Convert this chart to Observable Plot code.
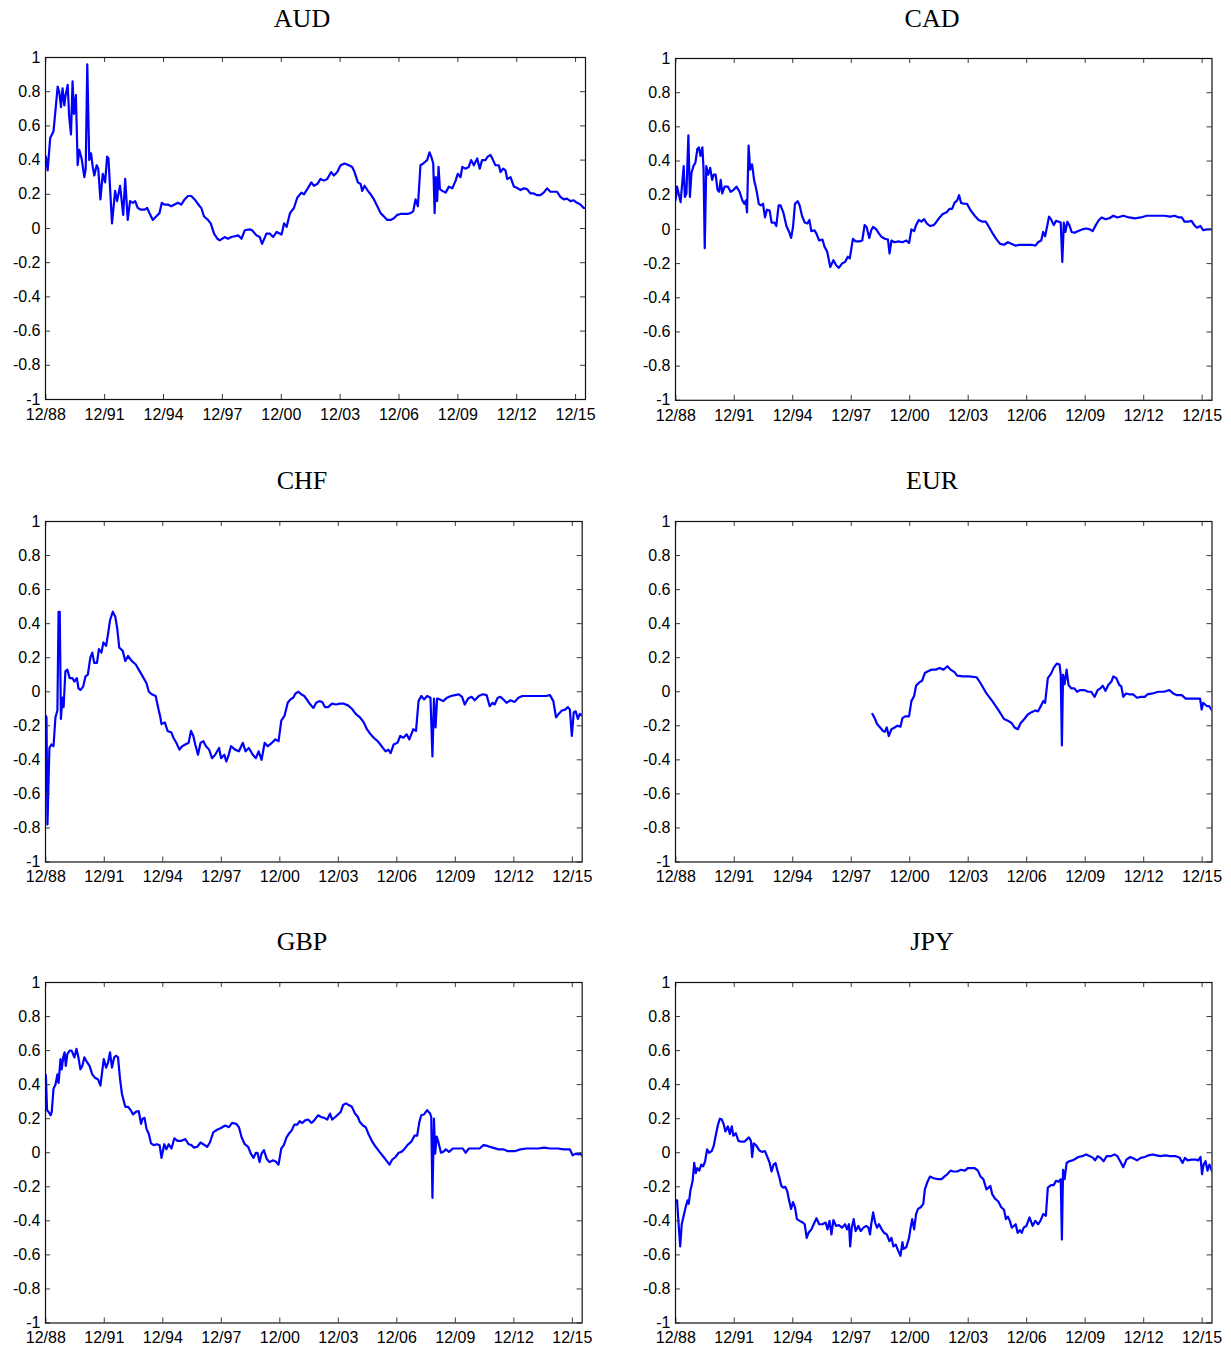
<!DOCTYPE html>
<html>
<head>
<meta charset="utf-8">
<script src="https://cdn.jsdelivr.net/npm/d3@7"></script>
<script src="https://cdn.jsdelivr.net/npm/@observablehq/plot@0.6"></script>
<style>
  html, body { margin: 0; padding: 0; background: #fff; }
  #root { position: relative; width: 1231px; height: 1350px; background: #fff; overflow: hidden; }
  .title { position: absolute; font-family: "Liberation Serif", "Times New Roman", serif; font-size: 26px; line-height: 26px; color: #000; white-space: nowrap; transform: translateX(-50%); }
  .panel { position: absolute; }
</style>
</head>
<body>
<div id="root"></div>
<script>
// ---------- DATA (decimal year, value) ----------
const tickYears = [1988, 1991, 1994, 1997, 2000, 2003, 2006, 2009, 2012, 2015];
const tickLabels = ["12/88", "12/91", "12/94", "12/97", "12/00", "12/03", "12/06", "12/09", "12/12", "12/15"];
const yTicks = [-1, -0.8, -0.6, -0.4, -0.2, 0, 0.2, 0.4, 0.6, 0.8, 1];
const yTickLabels = ["-1", "-0.8", "-0.6", "-0.4", "-0.2", "0", "0.2", "0.4", "0.6", "0.8", "1"];
const xDomainYears = [1988.9, 2016.42];

const AUD = [[1988.92,0.42],[1989.01,0.34],[1989.14,0.53],[1989.23,0.55],[1989.31,0.57],[1989.52,0.83],[1989.60,0.80],[1989.69,0.71],[1989.77,0.82],[1989.86,0.72],[1989.91,0.77],[1990.03,0.84],[1990.11,0.65],[1990.20,0.55],[1990.28,0.86],[1990.35,0.67],[1990.45,0.78],[1990.54,0.37],[1990.62,0.46],[1990.74,0.41],[1990.88,0.30],[1990.95,0.35],[1991.03,0.96],[1991.13,0.40],[1991.22,0.44],[1991.31,0.36],[1991.39,0.31],[1991.51,0.37],[1991.59,0.35],[1991.70,0.17],[1991.82,0.32],[1991.94,0.27],[1992.04,0.42],[1992.11,0.41],[1992.29,0.03],[1992.45,0.22],[1992.55,0.16],[1992.70,0.25],[1992.86,0.08],[1992.96,0.29],[1993.09,0.05],[1993.21,0.16],[1993.35,0.15],[1993.47,0.16],[1993.60,0.12],[1993.77,0.11],[1993.95,0.11],[1994.08,0.12],[1994.20,0.09],[1994.37,0.05],[1994.54,0.07],[1994.71,0.09],[1994.83,0.15],[1994.97,0.14],[1995.14,0.14],[1995.31,0.13],[1995.48,0.14],[1995.65,0.15],[1995.82,0.14],[1995.99,0.17],[1996.16,0.19],[1996.33,0.19],[1996.50,0.17],[1996.76,0.13],[1996.84,0.12],[1996.98,0.07],[1997.18,0.05],[1997.32,0.03],[1997.49,-0.03],[1997.66,-0.06],[1997.78,-0.07],[1998.03,-0.05],[1998.20,-0.06],[1998.37,-0.05],[1998.55,-0.045],[1998.72,-0.04],[1998.89,-0.06],[1999.06,-0.01],[1999.31,-0.005],[1999.43,-0.01],[1999.65,-0.04],[1999.82,-0.05],[1999.94,-0.09],[2000.16,-0.03],[2000.33,-0.03],[2000.50,-0.05],[2000.68,-0.02],[2000.93,-0.035],[2001.06,0.03],[2001.19,0.01],[2001.36,0.09],[2001.56,0.12],[2001.73,0.18],[2001.94,0.21],[2002.07,0.20],[2002.24,0.23],[2002.45,0.27],[2002.58,0.25],[2002.75,0.26],[2002.92,0.29],[2003.09,0.28],[2003.26,0.29],[2003.46,0.33],[2003.60,0.31],[2003.77,0.33],[2003.94,0.37],[2004.14,0.38],[2004.36,0.37],[2004.53,0.36],[2004.65,0.33],[2004.82,0.27],[2004.96,0.26],[2005.04,0.22],[2005.16,0.25],[2005.33,0.22],[2005.47,0.20],[2005.64,0.17],[2005.81,0.13],[2005.98,0.09],[2006.15,0.07],[2006.32,0.05],[2006.49,0.05],[2006.66,0.06],[2006.83,0.08],[2006.99,0.085],[2007.34,0.085],[2007.50,0.09],[2007.64,0.10],[2007.76,0.17],[2007.88,0.13],[2008.01,0.37],[2008.15,0.38],[2008.35,0.40],[2008.47,0.445],[2008.56,0.42],[2008.66,0.38],[2008.73,0.09],[2008.79,0.30],[2008.86,0.16],[2008.93,0.36],[2009.00,0.23],[2009.12,0.22],[2009.29,0.21],[2009.46,0.245],[2009.63,0.235],[2009.80,0.28],[2009.91,0.32],[2010.05,0.30],[2010.14,0.36],[2010.30,0.35],[2010.47,0.36],[2010.59,0.40],[2010.73,0.37],[2010.90,0.41],[2011.03,0.35],[2011.15,0.40],[2011.32,0.40],[2011.44,0.42],[2011.58,0.43],[2011.71,0.40],[2011.83,0.37],[2012.00,0.37],[2012.09,0.33],[2012.22,0.35],[2012.34,0.34],[2012.43,0.29],[2012.60,0.30],[2012.77,0.245],[2012.97,0.235],[2013.11,0.225],[2013.28,0.235],[2013.44,0.23],[2013.61,0.205],[2013.78,0.205],[2013.95,0.195],[2014.12,0.195],[2014.29,0.21],[2014.46,0.235],[2014.63,0.215],[2014.80,0.215],[2014.97,0.215],[2015.14,0.185],[2015.31,0.17],[2015.48,0.175],[2015.65,0.16],[2015.82,0.165],[2015.99,0.15],[2016.16,0.14],[2016.33,0.12],[2016.42,0.12]];

const CAD = [[1988.9,0.17],[1988.92,0.19],[1988.98,0.25],[1989.06,0.21],[1989.16,0.16],[1989.26,0.29],[1989.32,0.37],[1989.38,0.19],[1989.46,0.21],[1989.56,0.55],[1989.64,0.19],[1989.72,0.33],[1989.82,0.37],[1989.92,0.39],[1990.02,0.47],[1990.10,0.48],[1990.18,0.43],[1990.28,0.48],[1990.34,0.35],[1990.40,-0.11],[1990.48,0.37],[1990.58,0.32],[1990.68,0.36],[1990.78,0.29],[1990.86,0.32],[1990.96,0.32],[1991.06,0.23],[1991.14,0.22],[1991.22,0.29],[1991.30,0.21],[1991.42,0.25],[1991.59,0.25],[1991.73,0.22],[1991.87,0.23],[1992.03,0.25],[1992.19,0.22],[1992.33,0.17],[1992.43,0.15],[1992.51,0.17],[1992.57,0.10],[1992.65,0.49],[1992.73,0.35],[1992.83,0.38],[1992.93,0.29],[1993.07,0.22],[1993.17,0.15],[1993.27,0.14],[1993.39,0.15],[1993.49,0.07],[1993.59,0.115],[1993.73,0.11],[1993.83,0.04],[1993.97,0.04],[1994.07,0.02],[1994.19,0.14],[1994.29,0.14],[1994.43,0.10],[1994.59,0.02],[1994.73,-0.015],[1994.83,-0.05],[1994.93,0.015],[1995.03,0.15],[1995.17,0.165],[1995.27,0.14],[1995.39,0.08],[1995.53,0.04],[1995.67,0.035],[1995.77,0.055],[1995.87,-0.01],[1996.03,-0.005],[1996.13,-0.025],[1996.27,-0.065],[1996.44,-0.06],[1996.54,-0.10],[1996.68,-0.13],[1996.84,-0.22],[1997.00,-0.18],[1997.14,-0.21],[1997.28,-0.225],[1997.44,-0.20],[1997.60,-0.19],[1997.74,-0.16],[1997.84,-0.17],[1998.00,-0.055],[1998.14,-0.07],[1998.34,-0.07],[1998.48,-0.065],[1998.60,0.025],[1998.70,0.015],[1998.84,-0.05],[1998.94,-0.005],[1999.04,0.015],[1999.20,0.0],[1999.34,-0.025],[1999.48,-0.045],[1999.64,-0.055],[1999.80,-0.06],[1999.88,-0.14],[1999.98,-0.065],[2000.14,-0.075],[2000.34,-0.07],[2000.54,-0.075],[2000.74,-0.065],[2000.88,-0.08],[2001.00,0.0],[2001.14,-0.01],[2001.24,0.025],[2001.38,0.055],[2001.51,0.045],[2001.65,0.06],[2001.79,0.035],[2001.95,0.02],[2002.15,0.025],[2002.29,0.045],[2002.45,0.07],[2002.61,0.09],[2002.81,0.10],[2002.95,0.12],[2003.09,0.12],[2003.21,0.155],[2003.35,0.17],[2003.45,0.20],[2003.55,0.155],[2003.69,0.15],[2003.85,0.15],[2004.05,0.11],[2004.25,0.08],[2004.45,0.055],[2004.65,0.045],[2004.81,0.045],[2004.95,0.02],[2005.15,-0.02],[2005.35,-0.055],[2005.55,-0.085],[2005.75,-0.09],[2005.95,-0.075],[2006.15,-0.085],[2006.35,-0.095],[2006.56,-0.09],[2006.76,-0.09],[2006.96,-0.09],[2007.16,-0.09],[2007.36,-0.095],[2007.50,-0.075],[2007.66,-0.065],[2007.76,-0.015],[2007.86,-0.04],[2007.96,0.015],[2008.06,0.075],[2008.16,0.06],[2008.30,0.025],[2008.42,0.05],[2008.56,0.045],[2008.66,0.04],[2008.74,-0.19],[2008.82,0.04],[2008.90,-0.015],[2009.00,0.045],[2009.10,0.025],[2009.22,-0.015],[2009.36,-0.02],[2009.56,-0.01],[2009.76,0.0],[2009.96,0.005],[2010.16,0.0],[2010.30,-0.01],[2010.46,0.025],[2010.62,0.055],[2010.76,0.07],[2010.96,0.06],[2011.16,0.065],[2011.36,0.08],[2011.57,0.07],[2011.87,0.08],[2012.17,0.07],[2012.47,0.065],[2012.77,0.07],[2013.07,0.08],[2013.37,0.08],[2013.67,0.08],[2013.97,0.08],[2014.27,0.075],[2014.51,0.08],[2014.71,0.07],[2014.87,0.07],[2015.01,0.045],[2015.17,0.045],[2015.37,0.05],[2015.51,0.025],[2015.65,0.01],[2015.83,0.02],[2015.97,-0.005],[2016.17,0.0],[2016.42,0.0]];

const CHF = [[1988.9,-0.14],[1988.95,-0.15],[1989.00,-0.78],[1989.10,-0.33],[1989.20,-0.31],[1989.31,-0.32],[1989.41,-0.15],[1989.51,-0.11],[1989.57,0.47],[1989.63,0.47],[1989.69,-0.16],[1989.77,-0.035],[1989.83,-0.09],[1989.92,0.12],[1990.02,0.13],[1990.14,0.08],[1990.28,0.08],[1990.38,0.06],[1990.51,0.08],[1990.59,0.02],[1990.69,0.01],[1990.83,0.03],[1990.95,0.09],[1991.07,0.10],[1991.20,0.20],[1991.30,0.23],[1991.40,0.17],[1991.54,0.17],[1991.64,0.25],[1991.77,0.23],[1991.87,0.29],[1992.01,0.27],[1992.11,0.34],[1992.21,0.42],[1992.35,0.47],[1992.48,0.44],[1992.58,0.37],[1992.68,0.26],[1992.86,0.24],[1992.99,0.18],[1993.13,0.21],[1993.33,0.18],[1993.53,0.16],[1993.68,0.13],[1993.88,0.09],[1994.08,0.05],[1994.20,0.0],[1994.35,-0.015],[1994.55,-0.025],[1994.69,-0.10],[1994.79,-0.15],[1994.85,-0.19],[1995.02,-0.18],[1995.16,-0.23],[1995.36,-0.24],[1995.46,-0.27],[1995.61,-0.30],[1995.77,-0.34],[1995.91,-0.32],[1996.07,-0.31],[1996.24,-0.30],[1996.36,-0.23],[1996.48,-0.26],[1996.58,-0.31],[1996.72,-0.37],[1996.85,-0.30],[1996.99,-0.29],[1997.13,-0.32],[1997.29,-0.34],[1997.44,-0.39],[1997.60,-0.37],[1997.80,-0.33],[1997.90,-0.39],[1998.07,-0.37],[1998.17,-0.41],[1998.27,-0.38],[1998.41,-0.32],[1998.62,-0.34],[1998.82,-0.35],[1999.02,-0.30],[1999.16,-0.35],[1999.33,-0.33],[1999.53,-0.37],[1999.69,-0.39],[1999.83,-0.35],[1999.98,-0.40],[2000.14,-0.30],[2000.30,-0.32],[2000.51,-0.30],[2000.69,-0.28],[2000.85,-0.29],[2000.99,-0.17],[2001.16,-0.14],[2001.32,-0.065],[2001.46,-0.045],[2001.60,-0.035],[2001.72,-0.01],[2001.87,0.0],[2002.01,-0.015],[2002.17,-0.025],[2002.33,-0.05],[2002.48,-0.075],[2002.64,-0.095],[2002.78,-0.065],[2002.94,-0.055],[2003.09,-0.06],[2003.23,-0.09],[2003.39,-0.09],[2003.59,-0.07],[2003.80,-0.075],[2004.00,-0.07],[2004.20,-0.07],[2004.41,-0.08],[2004.61,-0.10],[2004.81,-0.13],[2005.02,-0.15],[2005.22,-0.18],[2005.38,-0.22],[2005.57,-0.25],[2005.73,-0.27],[2005.93,-0.29],[2006.07,-0.31],[2006.20,-0.33],[2006.34,-0.35],[2006.48,-0.34],[2006.60,-0.36],[2006.75,-0.31],[2006.95,-0.30],[2007.09,-0.26],[2007.25,-0.27],[2007.42,-0.25],[2007.56,-0.28],[2007.76,-0.22],[2007.90,-0.23],[2008.03,-0.055],[2008.17,-0.025],[2008.31,-0.045],[2008.47,-0.025],[2008.64,-0.035],[2008.74,-0.38],[2008.82,-0.04],[2008.90,-0.21],[2008.98,-0.04],[2009.12,-0.045],[2009.29,-0.055],[2009.49,-0.035],[2009.69,-0.025],[2009.90,-0.02],[2010.10,-0.015],[2010.26,-0.03],[2010.40,-0.075],[2010.57,-0.04],[2010.75,-0.03],[2010.91,-0.05],[2011.12,-0.025],[2011.32,-0.015],[2011.52,-0.02],[2011.68,-0.085],[2011.83,-0.065],[2011.93,-0.075],[2012.09,-0.035],[2012.23,-0.03],[2012.38,-0.045],[2012.54,-0.065],[2012.74,-0.05],[2012.95,-0.06],[2013.15,-0.035],[2013.35,-0.025],[2013.76,-0.025],[2014.16,-0.025],[2014.57,-0.025],[2014.77,-0.02],[2014.94,-0.055],[2015.08,-0.15],[2015.22,-0.13],[2015.38,-0.11],[2015.55,-0.105],[2015.69,-0.09],[2015.79,-0.105],[2015.89,-0.26],[2015.99,-0.12],[2016.09,-0.115],[2016.20,-0.16],[2016.30,-0.13],[2016.42,-0.14]];

const EUR = [[1999.00,-0.13],[1999.14,-0.16],[1999.24,-0.19],[1999.40,-0.21],[1999.54,-0.23],[1999.64,-0.235],[1999.74,-0.21],[1999.84,-0.26],[1999.98,-0.22],[2000.14,-0.21],[2000.28,-0.20],[2000.44,-0.205],[2000.54,-0.155],[2000.68,-0.145],[2000.88,-0.145],[2001.00,-0.055],[2001.14,-0.025],[2001.24,0.035],[2001.40,0.055],[2001.55,0.065],[2001.69,0.11],[2001.85,0.12],[2002.05,0.13],[2002.25,0.13],[2002.45,0.14],[2002.65,0.13],[2002.85,0.15],[2003.01,0.13],[2003.21,0.115],[2003.35,0.095],[2003.65,0.09],[2003.95,0.09],[2004.35,0.085],[2004.55,0.05],[2004.85,-0.01],[2005.15,-0.055],[2005.45,-0.105],[2005.75,-0.16],[2005.95,-0.17],[2006.15,-0.185],[2006.29,-0.21],[2006.46,-0.22],[2006.60,-0.185],[2006.76,-0.165],[2006.96,-0.135],[2007.16,-0.12],[2007.36,-0.11],[2007.50,-0.115],[2007.66,-0.08],[2007.76,-0.055],[2007.86,-0.065],[2008.00,0.08],[2008.16,0.105],[2008.30,0.14],[2008.46,0.165],[2008.60,0.16],[2008.66,0.10],[2008.72,-0.315],[2008.78,0.10],[2008.86,0.045],[2008.96,0.13],[2009.06,0.04],[2009.20,0.02],[2009.36,0.02],[2009.50,0.0],[2009.66,0.01],[2009.86,0.01],[2010.06,0.0],[2010.22,0.0],[2010.40,-0.03],[2010.56,0.01],[2010.70,0.02],[2010.82,0.035],[2010.96,0.005],[2011.10,0.04],[2011.26,0.06],[2011.36,0.09],[2011.51,0.08],[2011.67,0.04],[2011.77,0.03],[2011.87,-0.03],[2012.01,-0.01],[2012.17,-0.015],[2012.37,-0.015],[2012.57,-0.035],[2012.77,-0.03],[2012.97,-0.03],[2013.11,-0.015],[2013.37,-0.01],[2013.67,0.0],[2013.97,0.0],[2014.23,0.01],[2014.43,-0.01],[2014.63,-0.02],[2014.87,-0.02],[2015.07,-0.04],[2015.27,-0.04],[2015.47,-0.04],[2015.67,-0.04],[2015.81,-0.04],[2015.89,-0.105],[2015.97,-0.065],[2016.07,-0.075],[2016.17,-0.085],[2016.27,-0.085],[2016.42,-0.11]];

const GBP = [[1988.9,0.46],[1988.92,0.45],[1988.98,0.25],[1989.06,0.24],[1989.16,0.22],[1989.22,0.24],[1989.31,0.375],[1989.41,0.40],[1989.51,0.46],[1989.57,0.41],[1989.67,0.55],[1989.73,0.49],[1989.81,0.56],[1989.88,0.59],[1989.94,0.51],[1990.02,0.58],[1990.14,0.60],[1990.24,0.60],[1990.38,0.56],[1990.49,0.61],[1990.59,0.56],[1990.69,0.49],[1990.79,0.51],[1990.89,0.56],[1990.99,0.54],[1991.16,0.51],[1991.30,0.46],[1991.44,0.44],[1991.60,0.43],[1991.72,0.395],[1991.81,0.48],[1991.89,0.55],[1992.01,0.50],[1992.11,0.53],[1992.21,0.59],[1992.31,0.50],[1992.42,0.56],[1992.52,0.57],[1992.62,0.56],[1992.72,0.435],[1992.82,0.345],[1992.99,0.27],[1993.13,0.27],[1993.27,0.25],[1993.39,0.225],[1993.53,0.24],[1993.68,0.245],[1993.80,0.17],[1993.88,0.20],[1993.98,0.205],[1994.08,0.14],[1994.20,0.11],[1994.31,0.055],[1994.45,0.045],[1994.61,0.05],[1994.75,0.045],[1994.85,-0.03],[1994.99,0.05],[1995.10,0.02],[1995.22,0.05],[1995.36,0.025],[1995.51,0.085],[1995.67,0.07],[1995.87,0.07],[1996.07,0.08],[1996.24,0.05],[1996.38,0.045],[1996.52,0.03],[1996.68,0.035],[1996.85,0.06],[1996.99,0.05],[1997.19,0.035],[1997.33,0.06],[1997.50,0.12],[1997.70,0.135],[1997.90,0.145],[1998.11,0.16],[1998.31,0.15],[1998.47,0.175],[1998.68,0.17],[1998.82,0.15],[1998.96,0.09],[1999.12,0.05],[1999.29,0.035],[1999.43,-0.005],[1999.57,-0.03],[1999.69,0.0],[1999.77,0.0],[1999.88,-0.055],[1999.98,-0.005],[2000.10,0.015],[2000.24,-0.035],[2000.38,-0.055],[2000.55,-0.045],[2000.69,-0.05],[2000.85,-0.07],[2000.99,0.025],[2001.12,0.045],[2001.26,0.09],[2001.40,0.115],[2001.52,0.13],[2001.66,0.165],[2001.81,0.165],[2001.93,0.185],[2002.07,0.175],[2002.21,0.19],[2002.37,0.195],[2002.54,0.175],[2002.68,0.19],[2002.88,0.22],[2003.03,0.21],[2003.19,0.205],[2003.35,0.195],[2003.49,0.23],[2003.60,0.195],[2003.76,0.21],[2003.90,0.225],[2004.04,0.24],[2004.16,0.28],[2004.31,0.29],[2004.45,0.28],[2004.61,0.27],[2004.77,0.23],[2004.92,0.21],[2005.02,0.18],[2005.18,0.16],[2005.32,0.15],[2005.46,0.11],[2005.63,0.07],[2005.83,0.035],[2006.03,0.005],[2006.24,-0.025],[2006.44,-0.055],[2006.54,-0.07],[2006.68,-0.04],[2006.85,-0.025],[2007.01,0.0],[2007.15,0.005],[2007.29,0.02],[2007.46,0.045],[2007.66,0.065],[2007.82,0.10],[2007.96,0.10],[2008.07,0.18],[2008.17,0.22],[2008.31,0.225],[2008.47,0.25],[2008.62,0.23],[2008.68,0.21],[2008.74,-0.265],[2008.82,0.20],[2008.88,-0.005],[2008.96,0.095],[2009.04,0.065],[2009.18,0.0],[2009.29,0.005],[2009.43,0.02],[2009.59,0.005],[2009.79,0.025],[2010.10,0.025],[2010.30,0.025],[2010.44,0.0],[2010.61,0.025],[2010.91,0.025],[2011.16,0.025],[2011.36,0.045],[2011.56,0.04],[2011.83,0.03],[2012.13,0.02],[2012.38,0.02],[2012.58,0.01],[2012.78,0.01],[2012.99,0.01],[2013.25,0.02],[2013.56,0.025],[2013.86,0.025],[2014.17,0.025],[2014.47,0.03],[2014.77,0.025],[2015.18,0.025],[2015.48,0.02],[2015.79,0.02],[2015.93,-0.015],[2016.09,-0.005],[2016.24,-0.01],[2016.34,-0.005],[2016.42,-0.02]];

const JPY = [[1988.9,-0.28],[1988.98,-0.28],[1989.06,-0.42],[1989.14,-0.55],[1989.22,-0.42],[1989.32,-0.37],[1989.42,-0.32],[1989.52,-0.28],[1989.58,-0.30],[1989.66,-0.225],[1989.78,-0.165],[1989.86,-0.06],[1989.94,-0.12],[1990.02,-0.09],[1990.12,-0.105],[1990.22,-0.07],[1990.32,-0.08],[1990.42,-0.05],[1990.52,0.02],[1990.62,0.0],[1990.76,0.01],[1990.86,0.04],[1990.98,0.11],[1991.08,0.165],[1991.18,0.20],[1991.28,0.195],[1991.38,0.165],[1991.46,0.125],[1991.59,0.155],[1991.69,0.11],[1991.79,0.155],[1991.87,0.10],[1991.99,0.115],[1992.13,0.07],[1992.27,0.065],[1992.43,0.065],[1992.57,0.08],[1992.67,0.09],[1992.77,0.07],[1992.83,-0.025],[1992.91,0.055],[1993.03,0.045],[1993.19,0.015],[1993.33,0.005],[1993.49,0.01],[1993.63,-0.03],[1993.73,-0.06],[1993.83,-0.11],[1993.93,-0.07],[1994.03,-0.06],[1994.13,-0.105],[1994.23,-0.145],[1994.33,-0.195],[1994.43,-0.205],[1994.53,-0.20],[1994.63,-0.225],[1994.73,-0.28],[1994.83,-0.33],[1994.93,-0.29],[1995.03,-0.32],[1995.13,-0.39],[1995.27,-0.40],[1995.43,-0.41],[1995.53,-0.42],[1995.63,-0.50],[1995.73,-0.47],[1995.87,-0.45],[1996.03,-0.41],[1996.13,-0.385],[1996.27,-0.42],[1996.44,-0.42],[1996.60,-0.41],[1996.70,-0.45],[1996.80,-0.40],[1996.90,-0.48],[1997.00,-0.395],[1997.14,-0.43],[1997.28,-0.425],[1997.44,-0.44],[1997.60,-0.42],[1997.70,-0.45],[1997.80,-0.42],[1997.86,-0.55],[1997.94,-0.44],[1998.04,-0.39],[1998.14,-0.46],[1998.28,-0.43],[1998.40,-0.46],[1998.54,-0.44],[1998.68,-0.43],[1998.80,-0.44],[1998.88,-0.48],[1998.94,-0.42],[1999.04,-0.35],[1999.14,-0.41],[1999.24,-0.44],[1999.34,-0.42],[1999.48,-0.45],[1999.60,-0.47],[1999.74,-0.48],[1999.88,-0.52],[1999.98,-0.50],[2000.08,-0.55],[2000.20,-0.54],[2000.32,-0.575],[2000.44,-0.605],[2000.54,-0.525],[2000.60,-0.565],[2000.74,-0.555],[2000.88,-0.50],[2000.96,-0.44],[2001.04,-0.39],[2001.14,-0.45],[2001.24,-0.36],[2001.34,-0.33],[2001.48,-0.32],[2001.61,-0.30],[2001.69,-0.215],[2001.81,-0.175],[2001.95,-0.14],[2002.15,-0.15],[2002.35,-0.155],[2002.55,-0.155],[2002.69,-0.14],[2002.85,-0.125],[2003.01,-0.105],[2003.15,-0.11],[2003.35,-0.11],[2003.55,-0.10],[2003.75,-0.105],[2003.89,-0.09],[2004.05,-0.09],[2004.25,-0.09],[2004.41,-0.105],[2004.55,-0.14],[2004.69,-0.155],[2004.85,-0.215],[2004.95,-0.205],[2005.05,-0.195],[2005.15,-0.245],[2005.29,-0.27],[2005.45,-0.285],[2005.61,-0.32],[2005.75,-0.335],[2005.85,-0.39],[2005.95,-0.375],[2006.05,-0.40],[2006.15,-0.44],[2006.25,-0.43],[2006.35,-0.42],[2006.45,-0.47],[2006.56,-0.455],[2006.66,-0.47],[2006.76,-0.44],[2006.90,-0.43],[2007.06,-0.38],[2007.22,-0.43],[2007.36,-0.40],[2007.50,-0.42],[2007.62,-0.40],[2007.76,-0.36],[2007.90,-0.37],[2008.00,-0.205],[2008.16,-0.19],[2008.30,-0.19],[2008.42,-0.165],[2008.56,-0.17],[2008.66,-0.155],[2008.72,-0.51],[2008.78,-0.10],[2008.86,-0.155],[2008.96,-0.06],[2009.10,-0.05],[2009.26,-0.045],[2009.42,-0.035],[2009.56,-0.025],[2009.76,-0.02],[2009.96,-0.01],[2010.16,-0.02],[2010.32,-0.03],[2010.42,-0.045],[2010.56,-0.02],[2010.70,-0.03],[2010.86,-0.05],[2011.02,-0.02],[2011.22,-0.02],[2011.42,-0.01],[2011.57,-0.02],[2011.71,-0.05],[2011.87,-0.085],[2012.03,-0.04],[2012.23,-0.025],[2012.43,-0.035],[2012.57,-0.045],[2012.77,-0.03],[2012.97,-0.025],[2013.17,-0.015],[2013.37,-0.01],[2013.57,-0.015],[2013.77,-0.02],[2014.03,-0.015],[2014.27,-0.02],[2014.57,-0.02],[2014.77,-0.03],[2014.91,-0.06],[2015.03,-0.03],[2015.17,-0.045],[2015.37,-0.04],[2015.57,-0.04],[2015.71,-0.045],[2015.83,-0.025],[2015.91,-0.125],[2015.99,-0.07],[2016.09,-0.05],[2016.19,-0.105],[2016.29,-0.07],[2016.42,-0.11]];

// ---------- helpers ----------
function toDate(y) {
  const yr = Math.floor(y);
  const a = Date.UTC(yr, 0, 1), b = Date.UTC(yr + 1, 0, 1);
  return new Date(a + (y - yr) * (b - a));
}
const tickDates = tickYears.map(y => new Date(Date.UTC(y, 11, 1)));
const xLabelOf = new Map(tickDates.map((d, i) => [+d, tickLabels[i]]));
const yLabelOf = new Map(yTicks.map((v, i) => [v, yTickLabels[i]]));

// layout: frame box in page pixels
const panels = [
  {name: "AUD", data: AUD, L: 45,    R: 585,   T: 57.3,  B: 399.3, tx: 302, tb: 27.5},
  {name: "CAD", data: CAD, L: 674.5, R: 1211,  T: 57.5,  B: 399.3, tx: 932, tb: 27.5},
  {name: "CHF", data: CHF, L: 45,    R: 581.7, T: 520.5, B: 861,   tx: 302, tb: 489.5},
  {name: "EUR", data: EUR, L: 674.5, R: 1211,  T: 520.5, B: 861,   tx: 932, tb: 489.5},
  {name: "GBP", data: GBP, L: 45,    R: 581.7, T: 981.5, B: 1322,  tx: 302, tb: 950.5},
  {name: "JPY", data: JPY, L: 674.5, R: 1211,  T: 981.5, B: 1322,  tx: 932, tb: 950.5}
];

const root = document.getElementById("root");
const mL = 45, mR = 12, mT = 10, mB = 32;
const tickLen = 5;
const tickColor = "#3a3a3a";

for (const p of panels) {
  const W = p.R - p.L, H = p.B - p.T;
  const chart = Plot.plot({
    width: W + mL + mR,
    height: H + mT + mB,
    marginLeft: mL, marginRight: mR, marginTop: mT, marginBottom: mB,
    style: {fontFamily: "'Liberation Sans', Arial, sans-serif", fontSize: "16px", color: "#000", background: "transparent", overflow: "visible"},
    x: {type: "utc", domain: xDomainYears.map(toDate)},
    y: {domain: [-1, 1]},
    marks: [
      Plot.line(p.data, {x: d => toDate(d[0]), y: d => d[1], stroke: "#0000ff", strokeWidth: 2.2, strokeLinejoin: "round", clip: true}),
      // inward ticks
      Plot.tickX(tickDates, {x: d => d, insetTop: H - tickLen, stroke: tickColor, strokeWidth: 1}),
      Plot.tickX(tickDates, {x: d => d, insetBottom: H - tickLen, stroke: tickColor, strokeWidth: 1}),
      Plot.tickY(yTicks, {y: d => d, insetRight: W - tickLen, stroke: tickColor, strokeWidth: 1}),
      Plot.tickY(yTicks, {y: d => d, insetLeft: W - tickLen, stroke: tickColor, strokeWidth: 1}),
      Plot.frame({stroke: "#111", strokeWidth: 1.2}),
      Plot.axisX(tickDates, {tickSize: 0, tickPadding: 9, tickFormat: d => xLabelOf.get(+d), fontSize: 16}),
      Plot.axisY(yTicks, {tickSize: 0, tickPadding: 5, tickFormat: d => yLabelOf.get(d), fontSize: 16})
    ]
  });
  chart.classList.add("panel");
  chart.style.left = (p.L - mL) + "px";
  chart.style.top = (p.T - mT) + "px";
  root.appendChild(chart);

  const t = document.createElement("div");
  t.className = "title";
  t.textContent = p.name;
  t.style.left = p.tx + "px";
  t.style.top = (p.tb - 21.8) + "px";
  root.appendChild(t);
}
</script>
</body>
</html>
